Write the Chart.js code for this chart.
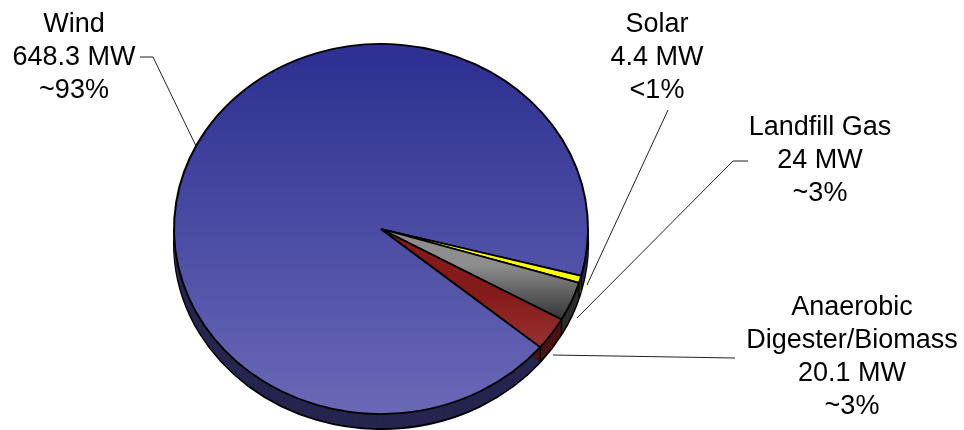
<!DOCTYPE html>
<html lang="en">
<head>
    <meta charset="UTF-8">
    <title>Installed capacity by source</title>
    <script src="https://cdn.jsdelivr.net/npm/chart.js"></script>
    <style>
        body { margin: 0; background: #fff; }
        canvas { display: block; }
    </style>
</head>
<body>
    <canvas id="pieChart" width="964" height="430"></canvas>

    <script>
        // Chart data
        const categories = ['Wind', 'Solar', 'Landfill Gas', 'Anaerobic Digester/Biomass'];
        const capacityMW = [648.3, 4.4, 24, 20.1];
        const shareLabels = ['~93%', '<1%', '~3%', '~3%'];

        // Label text split in lines, and where each block sits
        const labelBlocks = [
            { lines: ['Wind', '648.3 MW', '~93%'], x: 74, y: 25 },
            { lines: ['Solar', '4.4 MW', '<1%'], x: 657, y: 25 },
            { lines: ['Landfill Gas', '24 MW', '~3%'], x: 820, y: 128 },
            { lines: ['Anaerobic', 'Digester/Biomass', '20.1 MW', '~3%'], x: 852, y: 308 }
        ];
        const leaders = [
            [[140, 57], [153, 57], [196, 146]],
            [[668, 110], [587, 285]],
            [[748, 161], [733, 161], [577, 318]],
            [[735, 358], [553, 355]]
        ];

        const squash = 185 / 207;   // tilt of the pie
        const depth = 15;           // height of the pie side
        const sideColors = ['#25264f', '#6b6b00', '#2e2e2e', '#4a1212'];

        const ctx = document.getElementById('pieChart').getContext('2d');

        function vGrad(y0, c0, y1, c1) {
            const g = ctx.createLinearGradient(0, y0, 0, y1);
            g.addColorStop(0, c0);
            g.addColorStop(1, c1);
            return g;
        }

        // Squash the pie into an ellipse and draw the side wall under it
        const tiltPlugin = {
            id: 'tilt',
            beforeDatasetsDraw(chart) {
                const arcs = chart.getDatasetMeta(0).data;
                const c = chart.ctx;
                const cy = arcs[0].y;

                c.save();
                arcs.forEach((arc, i) => {
                    // stack of offset slices makes the wall
                    for (let d = depth; d > 0; d--) {
                        c.save();
                        c.translate(0, cy + d);
                        c.scale(1, squash);
                        c.translate(0, -cy);
                        c.beginPath();
                        c.moveTo(arc.x, arc.y);
                        c.arc(arc.x, arc.y, arc.outerRadius, arc.startAngle, arc.endAngle);
                        c.closePath();
                        c.fillStyle = sideColors[i];
                        c.fill();
                        if (d === depth) {
                            c.beginPath();
                            c.arc(arc.x, arc.y, arc.outerRadius, arc.startAngle, arc.endAngle);
                            c.restore();
                            c.strokeStyle = '#000';
                            c.lineWidth = 2;
                            c.stroke();
                        } else {
                            c.restore();
                        }
                    }
                });

                // edges between slices on the visible part of the wall
                arcs.forEach(arc => {
                    const a = arc.endAngle;
                    if (Math.sin(a) > 0) {
                        const px = arc.x + arc.outerRadius * Math.cos(a);
                        const py = cy + arc.outerRadius * Math.sin(a) * squash;
                        c.beginPath();
                        c.moveTo(px, py);
                        c.lineTo(px, py + depth);
                        c.strokeStyle = '#000';
                        c.lineWidth = 1.5;
                        c.stroke();
                    }
                });
                c.restore();

                c.save();
                c.translate(0, cy);
                c.scale(1, squash);
                c.translate(0, -cy);
            },
            afterDatasetsDraw(chart) {
                chart.ctx.restore();
            }
        };

        // Labels and leader lines outside of the pie
        const labelPlugin = {
            id: 'pieLabels',
            afterDraw(chart) {
                const c = chart.ctx;
                c.save();
                c.strokeStyle = '#222';
                c.lineWidth = 1;
                leaders.forEach(pts => {
                    c.beginPath();
                    pts.forEach((p, i) => i ? c.lineTo(p[0], p[1]) : c.moveTo(p[0], p[1]));
                    c.stroke();
                });
                c.fillStyle = '#000';
                c.font = '27px "Liberation Sans", Arial, sans-serif';
                c.textAlign = 'center';
                c.textBaseline = 'middle';
                labelBlocks.forEach(b => {
                    b.lines.forEach((t, i) => c.fillText(t, b.x, b.y + i * 33));
                });
                c.restore();
            }
        };

        new Chart(ctx, {
            type: 'pie',
            data: {
                labels: categories,
                datasets: [{
                    data: capacityMW,
                    backgroundColor: [
                        vGrad(40, '#2e3192', 436, '#6a68b6'),
                        '#ffff00',
                        vGrad(269, '#8e8e8e', 331, '#333333'),
                        vGrad(300, '#851a1a', 366, '#9a3232')
                    ],
                    borderColor: '#000',
                    borderWidth: 2,
                    borderAlign: 'center',
                    radius: 207,
                    rotation: 129.7
                }]
            },
            options: {
                responsive: false,
                animation: false,
                layout: { padding: { left: 174, right: 376, top: 28, bottom: 0 } },
                plugins: {
                    legend: { display: false },
                    tooltip: { enabled: false }
                }
            },
            plugins: [tiltPlugin, labelPlugin]
        });
    </script>
</body>
</html>
